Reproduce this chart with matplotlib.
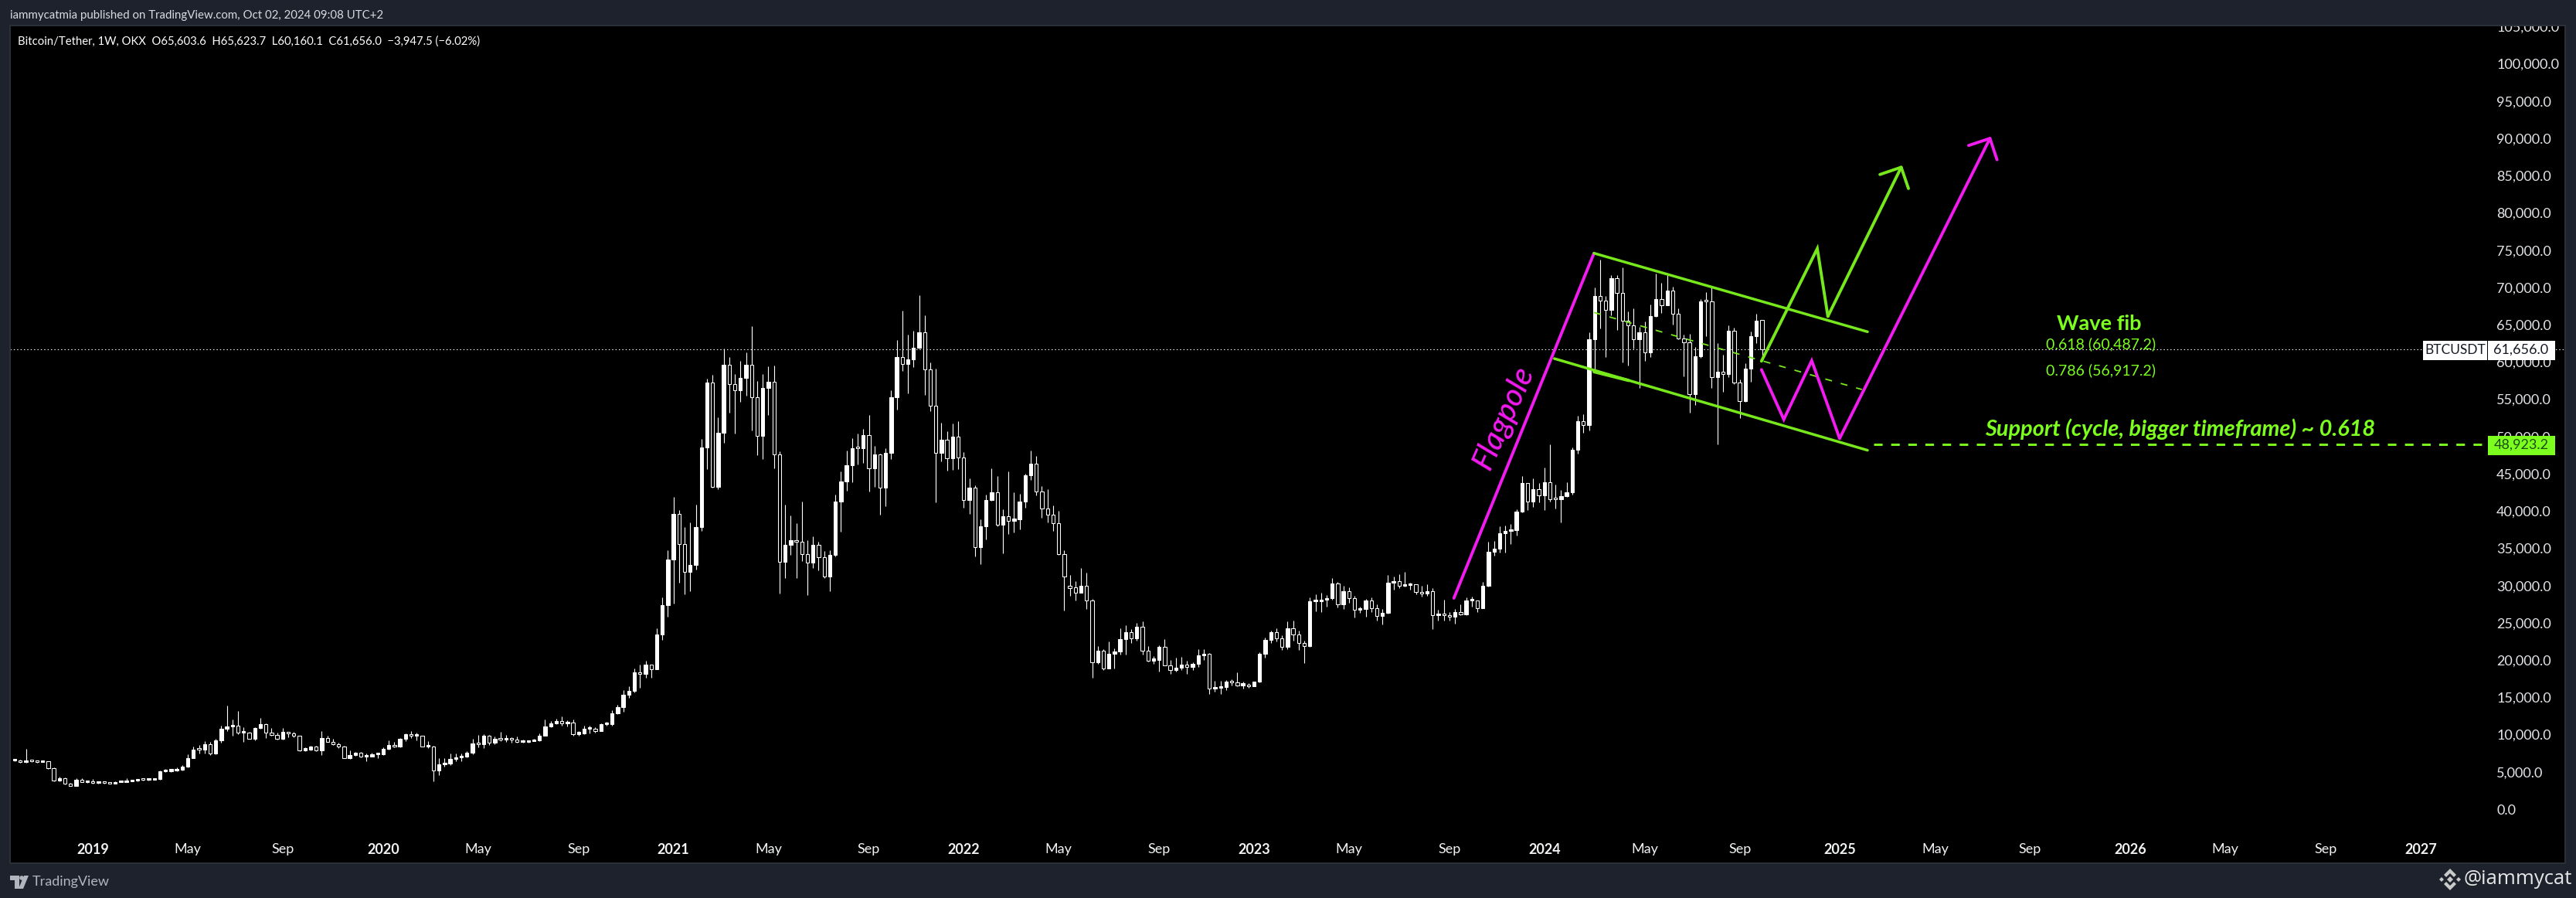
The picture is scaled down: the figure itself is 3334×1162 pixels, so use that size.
import numpy as np
import pandas as pd
import matplotlib
matplotlib.use("Agg")
import matplotlib.pyplot as plt
from matplotlib.patches import Polygon, Rectangle, Circle
from matplotlib.transforms import IdentityTransform

W, H = 3334, 1162
BG = "#1e222d"
BLACK = "#000000"
WHITE = "#ffffff"
GREEN = "#7cff1e"
LINE_GREEN = "#76e81c"
MAGENTA = "#f21bf0"
FONT = "Lato"

FIRST_WEEK = "2018-10-01"
REF_WEEK = pd.Timestamp("2018-12-31")

# weekly closes
closes = [
 6500,6300,6500,6400,6330,6400,5500,3800,4150,3420,3140,3900,3650,3780,
 3490,3530,3500,3450,3620,3650,3730,3800,3950,3900,3950,4050,5080,5130,5200,5260,5700,6840,8000,7950,8680,7500,9230,10750,11060,11150,10300,10300,9430,10850,11400,10300,10000,9430,10350,10200,9850,7920,7980,8370,7900,9500,9040,8700,8400,6880,7225,7540,7050,7100,7320,7350,
 8090,8630,8350,9400,10100,9800,9850,8400,8430,5220,6000,6100,6750,6950,7050,7550,8800,8700,9850,8900,9450,9360,9400,9300,9000,9050,9150,9200,9900,11050,11500,11800,11500,11600,10100,10150,10750,10780,10500,11370,11370,12820,13700,15310,15860,18400,18180,19360,18800,23460,27380,
 33500,39600,35600,31870,32770,37850,48530,57240,43240,50500,59620,57070,56240,57860,59620,55300,50120,56510,57340,47630,33190,35470,36090,35900,34260,33120,35470,33840,31210,34080,41270,43970,46140,48430,48400,50190,45730,47600,43170,47800,55270,60660,59760,60350,61900,63980,59030,54160,47840,
 49570,47110,49980,47220,41480,43140,35190,37950,41480,42520,38200,39300,38720,38850,41270,44800,46350,42620,40340,39500,38400,34220,31250,29690,29070,29930,28030,19740,21220,18910,20840,21120,22780,23710,22950,24440,21290,19950,20020,21780,19320,18700,18940,19390,19120,19500,20600,20840,16210,16280,16350,17110,17040,16630,16730,16490,
 17080,20840,22710,23710,22880,21740,24230,23470,22330,21910,27860,27860,28100,28310,30280,27520,29240,28350,26790,26860,27970,27000,25890,26340,30380,30590,30000,30100,30170,29170,28960,29200,26060,26100,26000,25800,26410,26160,27960,27960,27000,29930,34530,34910,37020,37330,37400,39890,43730,41300,42930,42130,
 43860,41620,41580,41960,42480,48220,52050,51570,63040,68850,68270,67020,71240,69230,65570,64880,63010,63980,61320,66120,68440,67640,69540,66500,63110,62670,55680,60730,68090,68080,58000,58650,58340,64150,57200,54790,59070,63430,65500,61656.0]
highs = [
 6560,6600,8090,6600,6450,6500,6400,5560,4400,4200,3500,4100,4150,3850,
 4000,3600,3600,3530,3700,3800,4140,3900,4000,4020,4050,4100,5200,5400,5350,5600,5900,7400,8350,8600,9100,9000,9400,11200,13900,12000,13130,11000,10400,11000,12200,11500,10900,10250,10900,10400,10350,9900,8300,8550,8470,10450,9800,9400,8900,8500,7850,7700,7700,7500,7520,7450,
 8250,9200,9000,9550,10200,10500,10300,9900,9150,8530,6850,6880,7450,7430,7500,7800,9400,10000,10050,10000,9700,10350,10000,9600,9750,9300,9250,9450,10150,12000,11800,12100,12450,11900,12000,10500,11150,11200,10950,11550,11700,13300,14000,16000,16500,18900,19400,19900,19400,24300,28380,
 34740,41860,40130,37820,38470,40820,49670,57760,58240,52570,61800,60660,58380,60110,61280,64800,57410,58380,59410,59520,48010,40860,39400,38370,41270,36090,36610,35880,34600,34740,42200,45320,48080,49770,50400,51020,52880,48740,47740,48430,56200,62940,66880,63670,64180,68950,66260,59930,59100,
 51850,50710,51740,52050,47910,44380,43450,38890,42210,45730,44690,40240,45320,42520,42310,45000,48120,47390,43350,42930,40750,40030,34740,31390,30590,32350,31730,28200,21880,21470,22510,21530,24230,24650,24160,24990,25200,21880,20530,21950,22810,20010,20290,20400,19910,19670,21470,21470,20950,17200,17200,17320,17420,18360,17080,16870,
 17150,21100,23020,23950,24230,23370,25160,25270,23950,22570,28380,28830,29070,28720,30970,30450,29930,29760,28620,27170,28170,28380,27520,26860,31420,31210,31490,31830,30350,30040,29930,30180,29700,26790,28100,26440,26860,27450,28380,28520,28030,30520,35880,35980,37950,38060,38300,40200,44700,43750,44380,43750,
 45830,48940,43520,42830,43860,48490,52750,52990,63980,70000,73720,68850,71620,71620,72670,66750,67190,64690,65430,67670,71860,70570,71620,70100,67150,63700,63760,62000,68400,69330,70000,62570,61000,64900,64600,57700,59800,64100,66500,65623.7]
lows = [
 6400,6250,6250,6300,6250,6300,5400,3750,3700,3300,3130,3120,3600,3550,
 3450,3400,3430,3380,3380,3600,3650,3700,3720,3850,3850,3930,3950,4950,5000,5050,5200,5650,6800,7450,7500,7300,7400,8900,10500,9800,10100,9050,9400,9200,10750,9550,9850,9300,9350,9600,9620,7750,7750,7850,7750,7300,9000,8600,8150,6800,6700,7150,6950,6430,7050,6880,
 7300,8000,8280,8250,9150,9500,9200,8350,8150,3770,4530,5700,5900,6380,6400,6950,7400,8300,8150,8600,8700,9100,9000,8950,8900,8950,8950,9100,9100,9800,10950,11400,11200,11100,9850,9900,10100,10150,10250,10500,11150,11200,12800,13100,14900,15700,16300,17600,17600,19000,22700,
 25830,27590,30380,28830,29250,32180,37370,45660,43170,42960,49190,53200,50400,54650,55480,50810,47500,46970,52880,45730,28930,31010,34120,31010,33290,28730,32360,32040,31040,29240,33900,37260,42720,43860,46250,46460,42620,43240,39510,40650,46970,53610,58790,55790,59310,61800,55580,53400,41170,
 46660,45420,45520,45630,40440,39610,33910,32870,36190,41400,37950,34330,36920,37120,37540,40480,44170,42100,39090,38470,37330,34120,26650,28660,27990,29070,26890,17660,19460,18630,18910,18910,20710,20710,22330,22610,20780,19840,19500,18460,19320,18180,18460,18700,18150,18700,19050,20000,15450,15760,15450,15930,16630,16490,16210,16320,
 16490,17000,20330,22330,22500,21360,21470,22570,21360,19560,21810,26550,26470,27170,28100,27070,26890,27690,25720,26370,25850,26450,25340,24820,26240,29420,29690,29900,29480,28860,28520,28650,24200,25340,25340,25340,24920,26060,26030,27170,26480,26960,29860,34050,34430,34430,35570,36710,39820,40130,40540,41160,
 40130,41270,40300,38470,41860,42200,47730,50500,50840,58800,64510,60670,66260,64300,59980,59530,61790,56540,60180,60700,66020,66570,67600,65040,63000,58100,53220,54230,60600,63460,56500,48900,56000,58000,57000,52500,54600,57300,62500,60160.1]
# weeks that opened away from the previous close (index into the week list -> open)
open_gaps = {189: 29930, 190: 29760, 313: 65603.6}

# price scale
price_ticks = list(range(0, 105001, 5000))

# time scale
tick_months = ["2019-01","2019-05","2019-09","2020-01","2020-05","2020-09","2021-01","2021-05","2021-09",
               "2022-01","2022-05","2022-09","2023-01","2023-05","2023-09","2024-01","2024-05","2024-09",
               "2025-01","2025-05","2025-09","2026-01","2026-05","2026-09","2027-01"]
tick_names = ["2019","May","Sep","2020","May","Sep","2021","May","Sep","2022","May","Sep","2023","May","Sep",
              "2024","May","Sep","2025","May","Sep","2026","May","Sep","2027"]

# drawings: week number since the reference week, price
flagpole_w, flagpole_p = [244.8, 269.9], [28310, 74590]
chan_top_w, chan_top_p = [269.9, 318.9], [74590, 64050]
chan_low_w, chan_low_p = [262.8, 318.9], [60450, 48150]
chan_extra_w, chan_extra_p = [269.9, 276.1], [58690, 57520]
chan_mid_w, chan_mid_p = [269.9, 317.9], [66640, 56300]
green_w, green_p = [299.9, 309.9, 311.8, 325.1], [60110, 75210, 66120, 86380]
pink_w, pink_p = [299.9, 303.9, 308.9, 313.9, 341.0], [58970, 52290, 60170, 49740, 90250]
support_w, support_p = [320.0, 429.9], [48923.2, 48923.2]
last_close = 61656.0

assert len(closes) == len(highs) == len(lows), (len(closes), len(highs), len(lows))
dates = pd.date_range(FIRST_WEEK, periods=len(closes), freq="7D")
weeks = np.array((dates - REF_WEEK).days / 7.0)
closes_a = np.array(closes, float)
highs_a = np.array(highs, float)
lows_a = np.array(lows, float)
opens_a = np.r_[closes_a[0], closes_a[:-1]]
for k, v in open_gaps.items():
    opens_a[k] = v

fig = plt.figure(figsize=(W / 100, H / 100), dpi=100, facecolor=BG)
L, R, T, B = 13, 3320, 33, 1117
ax = fig.add_axes([L / W, 1 - B / H, (R - L) / W, (B - T) / H], facecolor=BLACK)
PXW, X0 = 7.225, 113.0
PXP, Y0 = 0.009644, 1047.0
ax.set_xlim((L - X0) / PXW, (R - X0) / PXW)
ax.set_ylim((Y0 - B) / PXP, (Y0 - T) / PXP)
for s in ax.spines.values():
    s.set_color("#2c303b")
    s.set_linewidth(1.4)

# candles
ax.vlines(weeks, lows_a, highs_a, color=WHITE, lw=0.8, zorder=2)
up = closes_a >= opens_a
bot = np.minimum(opens_a, closes_a)
hgt = np.maximum(np.abs(closes_a - opens_a), 220)
ax.bar(weeks[up], hgt[up], bottom=bot[up], width=0.6, color=WHITE, edgecolor=WHITE, lw=0.75, zorder=3)
ax.bar(weeks[~up], hgt[~up], bottom=bot[~up], width=0.6, color=BLACK, edgecolor=WHITE, lw=0.75, zorder=3)

# last price line
ax.axhline(last_close, color=WHITE, lw=0.75, ls=(0, (1.4, 2.8)), zorder=2.5)

# drawings
rc = dict(solid_capstyle="round", solid_joinstyle="miter")
ax.plot(flagpole_w, flagpole_p, color=MAGENTA, lw=2.8, zorder=4, **rc)
ax.plot(chan_top_w, chan_top_p, color=LINE_GREEN, lw=2.5, zorder=4, **rc)
ax.plot(chan_low_w, chan_low_p, color=LINE_GREEN, lw=2.5, zorder=4, **rc)
ax.plot(chan_extra_w, chan_extra_p, color=LINE_GREEN, lw=3.0, zorder=4, **rc)
ax.plot(chan_mid_w, chan_mid_p, color=LINE_GREEN, lw=1.3, ls=(0, (5, 6.5)), zorder=4)
ax.plot(support_w, support_p, color=GREEN, lw=2.1, ls=(0, (3.8, 3.8)), zorder=4)
ax.plot(green_w[:-1], green_p[:-1], color=LINE_GREEN, lw=2.8, zorder=4, **rc)
ax.plot(pink_w[:-1], pink_p[:-1], color=MAGENTA, lw=2.8, zorder=4, **rc)
arrow = "->,head_length=1,head_width=1"
ax.annotate("", xy=(green_w[-1], green_p[-1]), xytext=(green_w[-2], green_p[-2]), zorder=4,
            arrowprops=dict(arrowstyle=arrow, color=LINE_GREEN, lw=2.8, mutation_scale=14.8, shrinkA=0, shrinkB=0))
ax.annotate("", xy=(pink_w[-1], pink_p[-1]), xytext=(pink_w[-2], pink_p[-2]), zorder=4,
            arrowprops=dict(arrowstyle=arrow, color=MAGENTA, lw=2.8, mutation_scale=14.8, shrinkA=0, shrinkB=0))

def wk(px):
    return (px - X0) / PXW

def pr(py):
    return (Y0 - py) / PXP

ax.text(wk(1946), pr(541), "Flagpole", color=MAGENTA, fontsize=29, rotation=66, style="italic", weight="medium",
        family="Lato", ha="center", va="center", zorder=5, rotation_mode="anchor")
ax.text(wk(2717), pr(419), "Wave fib", color=GREEN, fontsize=19.5, family="Lato", weight="bold",
        ha="center", va="center", zorder=5)
ax.text(wk(2719), pr(445.5), "0.618 (60,487.2)", color=GREEN, fontsize=14, family=FONT,
        ha="center", va="center", zorder=5)
ax.text(wk(2719), pr(479), "0.786 (56,917.2)", color=GREEN, fontsize=14, family=FONT,
        ha="center", va="center", zorder=5)
ax.text(wk(2822), pr(555), "Support (cycle, bigger timeframe) ~ 0.618", color=GREEN, fontsize=20.8, family="Lato",
        style="italic", weight="bold", ha="center", va="center", zorder=5)

# axes
ax.set_yticks(price_ticks)
ax.set_yticklabels([f"{v:,.1f}" for v in price_ticks])
ax.yaxis.tick_right()
ax.tick_params(axis="y", length=0, pad=-64, labelcolor="#e4e6ea", labelsize=13)
for lb in ax.get_yticklabels():
    lb.set_family(FONT)
    lb.set_clip_on(True)
    lb.set_clip_box(ax.bbox)

def first_monday(m):
    d = pd.Timestamp(m + "-01")
    return d + pd.Timedelta(days=(7 - d.weekday()) % 7)

tick_x = [(first_monday(m) - REF_WEEK).days / 7.0 for m in tick_months]
ax.set_xticks(tick_x)
ax.set_xticklabels(tick_names)
ax.tick_params(axis="x", length=0, pad=-19, labelcolor="#f2f3f5", labelsize=13)
for lb, name in zip(ax.get_xticklabels(), tick_names):
    lb.set_family(FONT)
    lb.set_weight("bold" if name.isdigit() else "normal")

# price boxes
def box(x0, x1, y0, y1, fc):
    ax.add_patch(Rectangle((wk(x0), pr(y1)), wk(x1) - wk(x0), pr(y0) - pr(y1), facecolor=fc, edgecolor="none", zorder=6))

box(3136, 3219, 441, 466, WHITE)
box(3220, 3307, 441, 466, WHITE)
box(3220, 3307, 564, 589, GREEN)
ax.text(wk(3177.5), pr(453), "BTCUSDT", color="#131722", fontsize=12.5, family=FONT, ha="center", va="center", zorder=7)
ax.text(wk(3263), pr(453), f"{last_close:,.1f}", color="#131722", fontsize=13, family=FONT, ha="center", va="center", zorder=7)
ax.text(wk(3263), pr(576), f"{support_p[0]:,.1f}", color="#1c4a10", fontsize=13, family=FONT, ha="center", va="center", zorder=7)

# header and footer
ax.text(wk(23), pr(54), "Bitcoin/Tether, 1W, OKX  O65,603.6  H65,623.7  L60,160.1  C61,656.0  \u22123,947.5 (\u22126.02%)",
        color=WHITE, fontsize=10.7, family=FONT, ha="left", va="center", zorder=7)
fig.text(13 / W, 1 - 20 / H, "iammycatmia published on TradingView.com, Oct 02, 2024 09:08 UTC+2",
         color="#d8dae0", fontsize=10.8, family=FONT, ha="left", va="center")
fig.text(42 / W, 1 - 1141 / H, "TradingView", color="#b2b5be", fontsize=13, family=FONT, ha="left", va="center")
fig.text(3188 / W, 1 - 1138 / H, "@iammycat", color="#e6e6e6", fontsize=18.5, family="Open Sans", ha="left", va="center")

# logos in pixel space
def px(pts):
    return [(x, H - y) for x, y in pts]

def poly(pts, fc):
    fig.add_artist(Polygon(px(pts), closed=True, facecolor=fc, edgecolor="none", transform=IdentityTransform()))

tv = "#b2b5be"
poly([(13, 1133), (25, 1133), (25, 1150), (19, 1150), (19, 1139), (13, 1139)], tv)
fig.add_artist(Circle((28, H - 1136), 2.8, facecolor=tv, edgecolor="none", transform=IdentityTransform()))
poly([(31, 1133), (37, 1133), (30, 1150), (24, 1150)], tv)

g = "#c9c9c9"
cx, cy = 3171, 1138
poly([(cx, cy - 4), (cx + 4, cy), (cx, cy + 4), (cx - 4, cy)], g)
poly([(cx - 14, cy), (cx - 11, cy - 3), (cx - 8, cy), (cx - 11, cy + 3)], g)
poly([(cx + 14, cy), (cx + 11, cy - 3), (cx + 8, cy), (cx + 11, cy + 3)], g)
poly([(cx, cy - 14), (cx + 8, cy - 6), (cx + 5, cy - 3), (cx, cy - 8), (cx - 5, cy - 3), (cx - 8, cy - 6)], g)
poly([(cx, cy + 14), (cx + 8, cy + 6), (cx + 5, cy + 3), (cx, cy + 8), (cx - 5, cy + 3), (cx - 8, cy + 6)], g)

fig.savefig("out.png", dpi=100, facecolor=BG)
